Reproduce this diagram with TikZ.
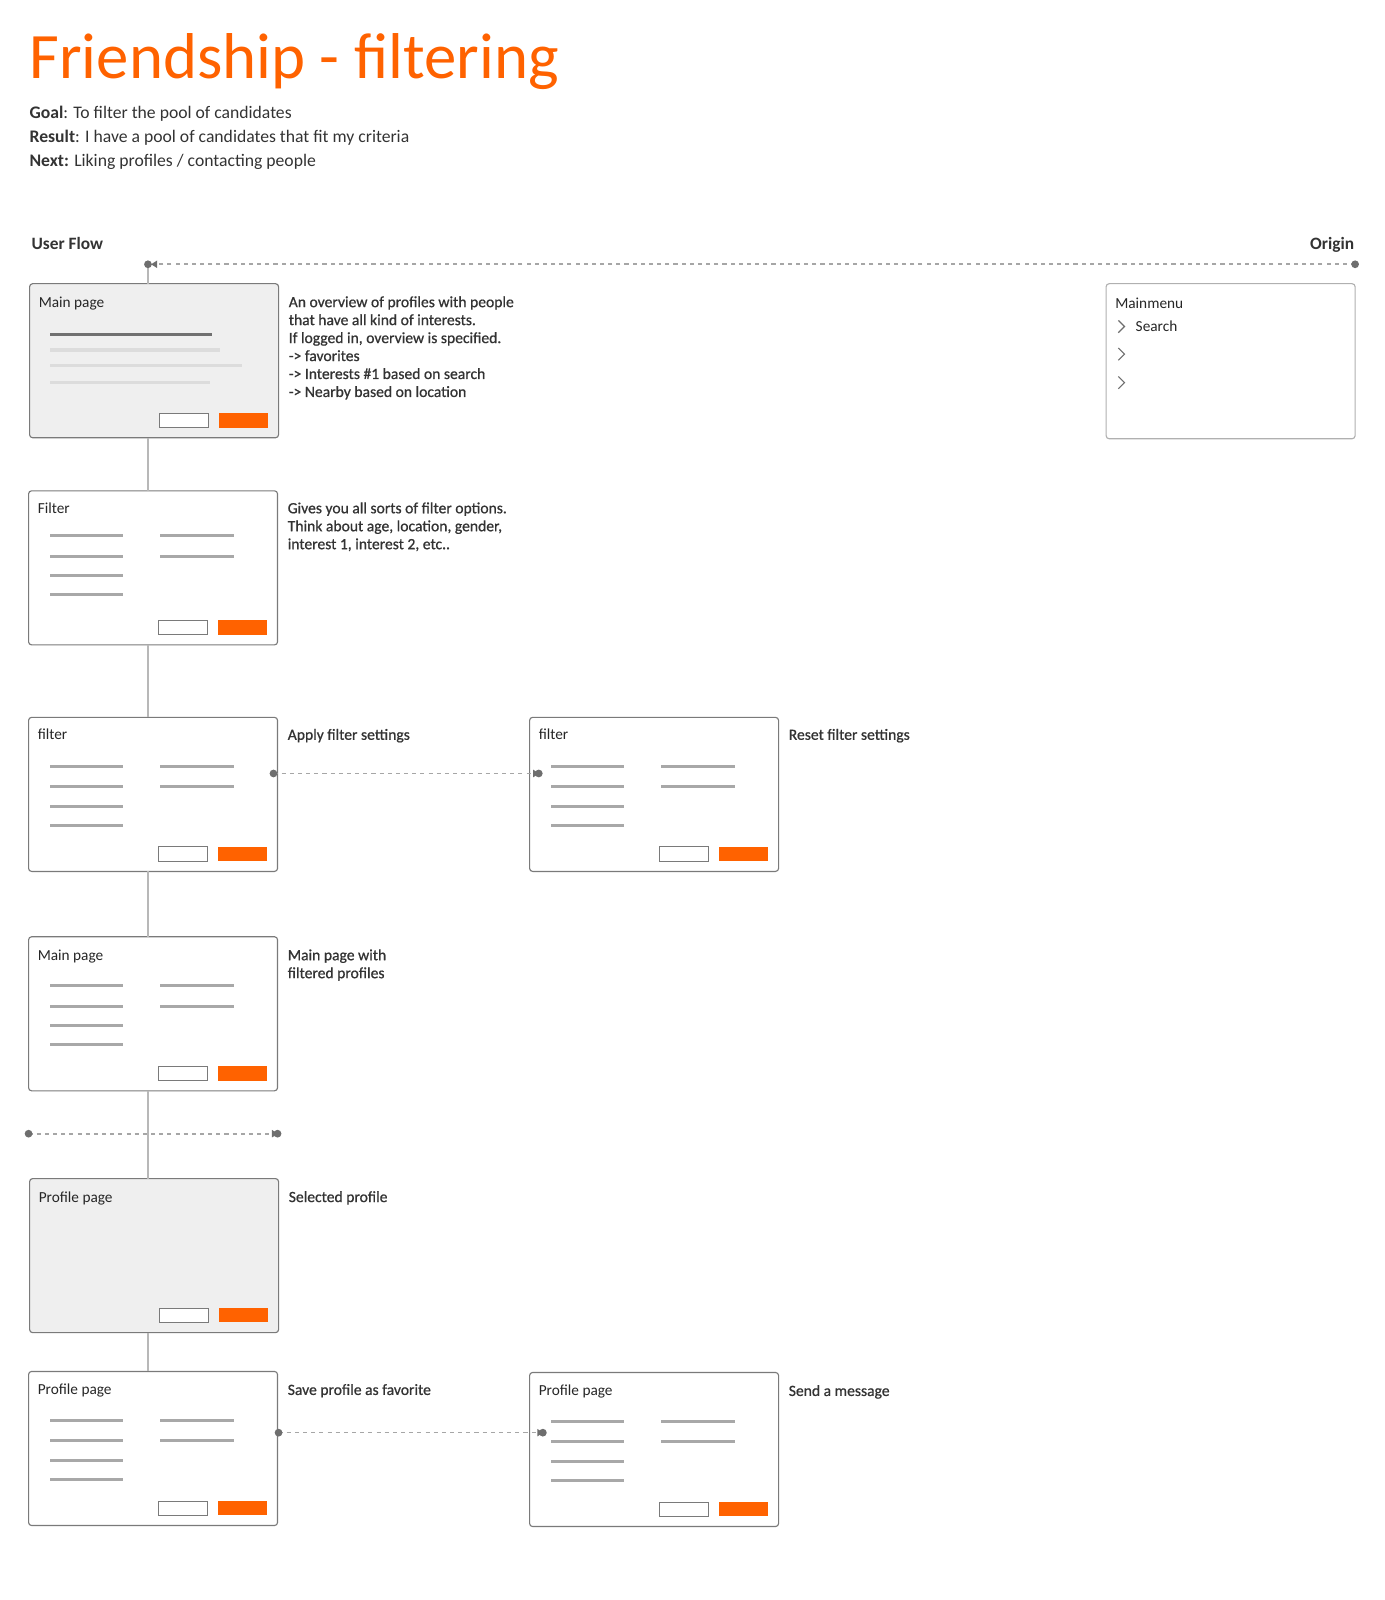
\documentclass[tikz,border=0pt]{standalone}
\usepackage{fontspec}
\setmainfont{Carlito}
\newfontfamily\descfont[FakeBold=0.8]{Carlito}
\usetikzlibrary{arrows.meta}
\definecolor{ingorange}{HTML}{FF6200}
\definecolor{boxborder}{HTML}{7A7A7A}
\definecolor{menuborder}{HTML}{B0B0B0}
\definecolor{greyfill}{HTML}{EFEFEF}
\definecolor{textdark}{HTML}{333333}
\definecolor{labeldark}{HTML}{262626}
\definecolor{flowgrey}{HTML}{B8B8B8}
\definecolor{dashgrey}{HTML}{A6A6A6}
\definecolor{dotgrey}{HTML}{6E6E6E}
\definecolor{linegrey}{HTML}{A8A8A8}
\definecolor{lightline}{HTML}{DCDCDC}
\definecolor{darkline}{HTML}{707070}
\newcommand{\screenlines}[3]{%
  \draw[cline] ({#1+21},{#2+#3}) -- ({#1+93},{#2+#3});
  \draw[cline] ({#1+21},{#2+#3+20}) -- ({#1+93},{#2+#3+20});
  \draw[cline] ({#1+21},{#2+#3+39}) -- ({#1+93},{#2+#3+39});
  \draw[cline] ({#1+21},{#2+#3+58}) -- ({#1+93},{#2+#3+58});
  \draw[cline] ({#1+129},{#2+#3}) -- ({#1+201},{#2+#3});
  \draw[cline] ({#1+129},{#2+#3+20}) -- ({#1+201},{#2+#3+20});
}
\newcommand{\screenbuttons}[2]{%
  \draw[btnw] ({#1+127},{#2+127}) rectangle ({#1+175},{#2+141});
  \fill[ingorange] ({#1+186},{#2+127}) rectangle ({#1+234},{#2+141});
}
\begin{document}
\begin{tikzpicture}[x=1pt,y=-1pt,
  every node/.style={inner sep=0pt, outer sep=0pt},
  screen/.style={draw=boxborder, line width=1.1pt, rounded corners=3pt, fill=white,
    minimum width=244pt, minimum height=151pt, anchor=north west},
  greyscreen/.style={screen, fill=greyfill},
  menubox/.style={screen, draw=menuborder, minimum height=152pt},
  lbl/.style={font=\fontsize{15}{17}\selectfont, text=labeldark, anchor=base west},
  desc/.style={font=\descfont\fontsize{15.3}{17.6}\selectfont, text=textdark, anchor=base west, align=left},
  head/.style={font=\fontsize{17}{19}\selectfont\bfseries, text=textdark, anchor=base west},
  intro/.style={font=\fontsize{17.3}{23.5}\selectfont, text=textdark, anchor=base west, align=left},
  flow/.style={draw=flowgrey, line width=1.8pt},
  dashconn/.style={draw=dashgrey, line width=1.6pt, dash pattern=on 4pt off 4pt},
  tipd/.style={-{Triangle[length=6pt,width=7pt,color=dotgrey]}, shorten >=3pt},
  tips/.style={-{Triangle[length=6pt,width=7pt,color=dotgrey]}, shorten >=-0.5pt},
  cline/.style={draw=linegrey, line width=3pt},
  btnw/.style={draw=boxborder, line width=1pt, fill=white},
  chev/.style={draw=dotgrey, line width=1.1pt}
]
\useasboundingbox (0,0) rectangle (1357.25,1568);

% title block
\node[font=\fontsize{63.5}{70}\selectfont, text=ingorange, anchor=base west] (title) at (29,77) {Friendship - filtering};
\node[intro] (goal) at (29,116) {\textbf{Goal}: To filter the pool of candidates};
\node[intro] (result) at (29,139.5) {\textbf{Result}: I have a pool of candidates that fit my criteria};
\node[intro] (next) at (29,163) {\textbf{Next:} Liking profiles / contacting people};

\node[head] (userflow) at (31,244.5) {User Flow};
\node[head, anchor=base east] (originlbl) at (1327,244.5) {Origin};

% screens
\node[greyscreen] (b1) at (29,278) {};
\node[screen] (b2) at (28,481) {};
\node[screen] (b3) at (28,703) {};
\node[screen] (b3r) at (519,703) {};
\node[screen] (b4) at (28,918) {};
\node[greyscreen] (b5) at (29,1155) {};
\node[screen] (b6) at (28,1344) {};
\node[screen] (b6r) at (519,1345) {};
\node[menubox] (menu) at (1084,278) {};

% flow coordinates
\coordinate (uf) at (145,259);
\coordinate (orig) at (1328,259);
\coordinate (sepL) at (28,1111);
\coordinate (sepR) at (272,1111);
\coordinate (fa) at (268,758);
\coordinate (fb) at (528,758);
\coordinate (pa) at (273,1404);
\coordinate (pb) at (532,1404);

% vertical flow
\draw[flow] (uf) -- (b1.north -| uf);
\draw[flow] (b1.south -| uf) -- (b2.north -| uf);
\draw[flow] (b2.south -| uf) -- (b3.north -| uf);
\draw[flow] (b3.south -| uf) -- (b4.north -| uf);
\draw[flow] (b4.south -| uf) -- (b5.north -| uf);
\draw[flow] (b5.south -| uf) -- (b6.north -| uf);

% dashed connectors
\draw[dashconn, tipd] (orig) -- (uf);
\draw[dashconn, tips] (sepL) -- (sepR);
\draw[dashconn, tips] (fa) -- (fb);
\draw[dashconn, tips] (pa) -- (pb);
\foreach \c in {uf,orig,sepL,sepR,fa,fb,pa,pb}
  \fill[dotgrey] (\c) circle[radius=3.8pt];

% screen 1 content
\draw[draw=darkline, line width=3pt] (49,328) -- (208,328);
\draw[draw=lightline, line width=3pt] (49,343) -- (216,343);
\draw[draw=lightline, line width=3pt] (49,358) -- (237,358);
\draw[draw=lightline, line width=3pt] (49,375) -- (206,375);
\screenbuttons{29}{278}
% screen 2..6 content
\screenlines{28}{481}{44}
\screenbuttons{28}{481}
\screenlines{28}{703}{48}
\screenbuttons{28}{703}
\screenlines{519}{703}{48}
\screenbuttons{519}{703}
\screenlines{28}{918}{48}
\screenbuttons{28}{918}
\screenbuttons{29}{1155}
\screenlines{28}{1344}{48}
\screenbuttons{28}{1344}
\screenlines{519}{1345}{48}
\screenbuttons{519}{1345}

% screen labels
\node[lbl] (l1) at (38,301) {Main page};
\node[lbl] (l2) at (37,503) {Filter};
\node[lbl] (l3) at (37,725) {filter};
\node[lbl] (l3r) at (528,725) {filter};
\node[lbl] (l4) at (37,941) {Main page};
\node[lbl] (l5) at (38,1178) {Profile page};
\node[lbl] (l6) at (37,1367) {Profile page};
\node[lbl] (l6r) at (528,1368) {Profile page};

% menu
\node[lbl] (mm) at (1093,302) {Mainmenu};
\node[lbl] (ms) at (1113,325) {Search};
\draw[chev] (1096,314) -- (1102,320) -- (1096,326);
\draw[chev] (1096,341) -- (1102,347) -- (1096,353);
\draw[chev] (1096,369) -- (1102,375) -- (1096,381);

% descriptions (anchor = baseline of last line)
\node[desc] (d1) at (283,389) {An overview of profiles with people\\that have all kind of interests.\\If logged in, overview is specified.\\-> favorites\\-> Interests \#1 based on search\\-> Nearby based on location};
\node[desc] (d2) at (282,538.2) {Gives you all sorts of filter options.\\Think about age, location, gender,\\interest 1, interest 2, etc..};
\node[desc] (d3) at (282,725) {Apply filter settings};
\node[desc] (d3r) at (773,725) {Reset filter settings};
\node[desc] (d4) at (282,958.6) {Main page with\\filtered profiles};
\node[desc] (d5) at (283,1178) {Selected profile};
\node[desc] (d6) at (282,1367) {Save profile as favorite};
\node[desc] (d6r) at (773,1368) {Send a message};
\end{tikzpicture}
\end{document}
